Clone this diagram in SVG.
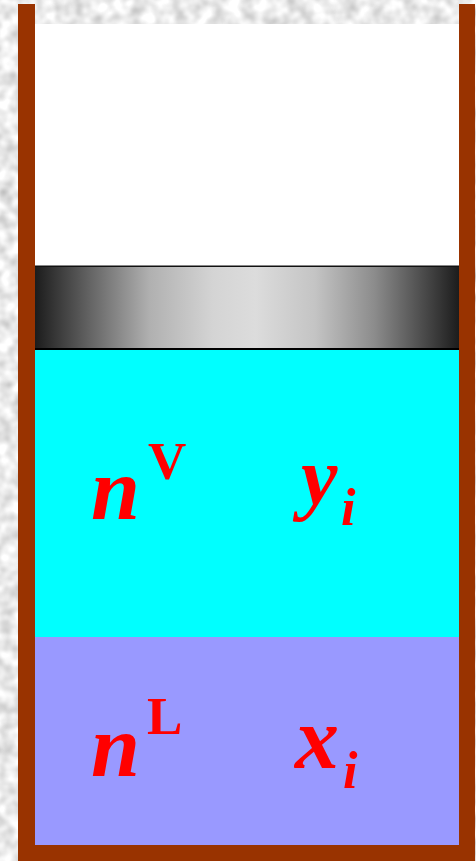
<svg xmlns="http://www.w3.org/2000/svg" width="476" height="861" viewBox="0 0 476 861">
<style>
text{font-family:"Liberation Serif","Times New Roman",serif;font-weight:bold;fill:#ff0000}
.i{font-style:italic}
.big{font-size:88px}
.var{font-size:82px}
.sup{font-size:53px}
.sub{font-size:52px}
.wall{fill:#993300}
</style>
<defs>
<filter id="tex" x="0" y="0" width="100%" height="100%" color-interpolation-filters="sRGB">
<feTurbulence type="fractalNoise" baseFrequency="0.07" numOctaves="2" seed="7"/>
<feColorMatrix type="matrix" values="0.42 0 0 0 0.71 0.42 0 0 0 0.71 0.42 0 0 0 0.71 0 0 0 0 1"/>
</filter>
<linearGradient id="piston" x1="0" x2="1" y1="0" y2="0">
<stop offset="0" stop-color="#1c1c1c"/>
<stop offset="0.13" stop-color="#646464"/>
<stop offset="0.27" stop-color="#b0b0b0"/>
<stop offset="0.42" stop-color="#d4d4d4"/>
<stop offset="0.52" stop-color="#dcdcdc"/>
<stop offset="0.66" stop-color="#c4c4c4"/>
<stop offset="0.8" stop-color="#8c8c8c"/>
<stop offset="1" stop-color="#1c1c1c"/>
</linearGradient>
</defs>
<rect id="background" width="476" height="861" fill="#e8e8e8" filter="url(#tex)"/>
<rect id="headspace" x="35" y="24" width="424" height="242" fill="#ffffff"/>
<g id="piston-body">
<rect x="35" y="266" width="424" height="83" fill="url(#piston)"/>
<rect x="35" y="265.5" width="424" height="1.5" fill="#111111"/>
<rect x="35" y="348" width="424" height="2" fill="#000000"/>
</g>
<g id="vapor">
<rect x="35" y="350" width="424" height="287" fill="#00ffff"/>
<text class="i big" x="91" y="519">n</text>
<text class="sup" x="148" y="479">V</text>
<text class="i var" x="301" y="504">y</text>
<text class="i sub" x="341" y="525">i</text>
</g>
<g id="liquid">
<rect x="35" y="637" width="424" height="208" fill="#9999ff"/>
<text class="i big" x="91" y="776">n</text>
<text class="sup" x="147" y="734">L</text>
<text class="i big" x="295" y="768">x</text>
<text class="i sub" x="343" y="788">i</text>
</g>
<g id="cylinder">
<rect class="wall" x="18" y="4" width="17" height="857"/>
<rect class="wall" x="459" y="4" width="16" height="857"/>
<rect class="wall" x="18" y="845" width="457" height="16"/>
</g>
</svg>
